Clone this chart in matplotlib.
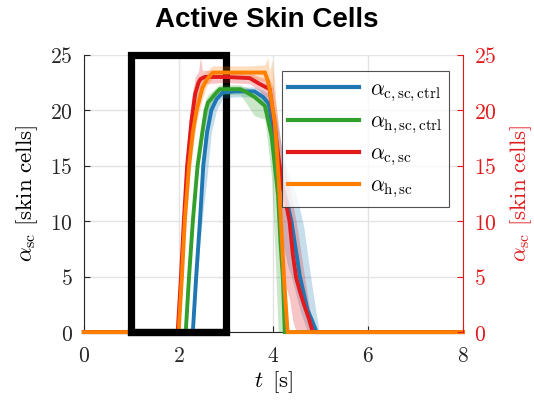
import matplotlib
matplotlib.use("Agg")
import matplotlib.pyplot as plt
from matplotlib.ticker import FuncFormatter
from matplotlib.patches import Rectangle

plt.rcParams["mathtext.fontset"] = "cm"
plt.rcParams["font.family"] = ["DejaVu Serif"]

# ---- data: mean active skin cells and spread bands over time [s] ----
t_c_ctrl = [0, 2.30, 2.37, 2.45, 2.52, 2.60, 2.69, 2.80, 2.93, 3.20, 3.60, 3.78, 3.90, 4.00, 4.10, 4.20, 4.30, 4.38, 4.47, 4.56, 4.64, 4.72, 4.82, 4.91, 4.97, 8]
a_c_ctrl = [0, 0, 5, 10, 15, 18, 20, 21, 21.6, 21.7, 21.7, 21.2, 20.6, 18, 15, 13, 11.5, 10, 7.5, 5, 3.5, 2, 1, 0, 0, 0]
lo_c_ctrl = [0, 0, 3, 8, 11, 14, 18, 20, 21.1, 21.2, 21.2, 20.5, 19, 15, 11, 8, 6, 5, 3.5, 2, 1, 0, 0, 0, 0, 0]
hi_c_ctrl = [0, 0, 7, 12, 17, 20.5, 21.5, 21.8, 22, 22.1, 22.1, 21.8, 21.5, 20.5, 18.5, 16, 14.5, 13.5, 12.5, 11, 9.5, 7, 4, 1.5, 0, 0]

t_h_ctrl = [0, 2.15, 2.22, 2.30, 2.40, 2.50, 2.57, 2.62, 2.80, 2.87, 3.30, 3.40, 3.60, 3.82, 3.96, 4.03, 4.10, 4.15, 4.20, 4.24, 4.28, 8]
a_h_ctrl = [0, 0, 5, 10, 15, 18, 20, 20.7, 21.6, 21.9, 21.9, 21.7, 21.2, 20.4, 17.7, 15, 12.3, 8, 4.9, 0, 0, 0]
lo_h_ctrl = [0, 0, 4, 9, 14, 17, 19, 19.8, 21, 21.4, 21.4, 20.8, 19.5, 19.2, 14, 7.5, 0, 0, 0, 0, 0, 0]
hi_h_ctrl = [0, 0, 6, 11, 16, 19, 21, 21.4, 22.1, 22.3, 22.3, 22.1, 21.8, 21.3, 19.5, 17.5, 15, 11, 7, 2, 0, 0]

t_c = [0, 1.98, 2.05, 2.11, 2.18, 2.27, 2.35, 2.42, 2.46, 2.50, 2.55, 3.00, 3.50, 3.70, 3.92, 4.00, 4.10, 4.20, 4.34, 4.41, 4.48, 4.57, 4.66, 4.75, 4.83, 4.86, 8]
a_c = [0, 0, 5, 10, 15, 19, 21.5, 22.5, 22.8, 22.9, 23.0, 23.0, 22.9, 22.4, 21.9, 19.5, 16, 13, 10, 7, 4.9, 3.5, 2.3, 1.2, 0, 0, 0]
lo_c = [0, 0, 3, 8, 13, 17, 20, 21.5, 22, 22.2, 22.4, 22.5, 22.4, 21.8, 20.5, 15, 9, 5, 3, 1, 0, 0, 0, 0, 0, 0, 0]
hi_c = [0, 0, 7, 12, 17, 21, 23, 23.5, 24.8, 23.6, 23.6, 23.5, 23.4, 23.0, 22.8, 22, 19, 15.5, 13, 11.5, 10, 7.5, 4.9, 2.5, 0.5, 0, 0]

t_h = [0, 2.00, 2.07, 2.13, 2.22, 2.30, 2.38, 2.50, 2.60, 2.72, 3.50, 3.82, 3.88, 3.92, 3.97, 4.03, 4.08, 4.13, 4.22, 4.30, 4.33, 8]
a_h = [0, 0, 5, 10, 15, 18, 20, 22, 22.8, 23.4, 23.4, 23.4, 22.7, 21.9, 20.5, 18.9, 15.9, 12.3, 5, 0, 0, 0]
lo_h = [0, 0, 3.5, 8.5, 13.5, 16.5, 19, 21, 22.2, 22.9, 22.9, 22.6, 21.5, 20, 18, 16, 12.5, 8, 2, 0, 0, 0]
hi_h = [0, 0, 6.5, 11.5, 16.5, 19.5, 21.5, 23, 23.6, 24, 24, 24.1, 24.8, 23.5, 24.5, 22.5, 19, 15.5, 8, 1, 0, 0]

labels = [r"$\alpha_{\mathrm{c,sc,ctrl}}$", r"$\alpha_{\mathrm{h,sc,ctrl}}$",
          r"$\alpha_{\mathrm{c,sc}}$", r"$\alpha_{\mathrm{h,sc}}$"]
colors = ["#1f78b4", "#33a02c", "#e31a1c", "#ff7f00"]
x_ticks = [0, 2, 4, 6, 8]
y_ticks = [0, 5, 10, 15, 20, 25]
highlight = (1, 3)  # time window marked by the box [s]

series = [
    (t_c_ctrl, a_c_ctrl, lo_c_ctrl, hi_c_ctrl),
    (t_h_ctrl, a_h_ctrl, lo_h_ctrl, hi_h_ctrl),
    (t_c, a_c, lo_c, hi_c),
    (t_h, a_h, lo_h, hi_h),
]

fig = plt.figure(figsize=(5.34, 4.09), dpi=100)
ax = fig.add_axes([0.157, 0.188, 0.71, 0.678])

box_lw = 5.2
ax.add_patch(Rectangle((highlight[0], 0), highlight[1] - highlight[0], 25,
                       fill=False, edgecolor="black", linewidth=box_lw,
                       clip_on=False, zorder=2, joinstyle="miter"))

for (tt, aa, lo, hi), col in zip(series, colors):
    ax.fill_between(tt, lo, hi, color=col, alpha=0.25, linewidth=0, zorder=3)
for (tt, aa, lo, hi), col, lab in zip(series, colors, labels):
    ax.plot(tt, aa, color=col, linewidth=2.8, label=lab, zorder=4,
            solid_joinstyle="miter", clip_on=False)

# bottom edge of the highlight box stays on top of the zero-level traces
ax.plot(highlight, [0, 0], color="black", linewidth=box_lw,
        solid_capstyle="projecting", clip_on=False, zorder=5)

ax.set_xlim(0, 8)
ax.set_ylim(0, 25)
ax.set_xticks(x_ticks)
ax.set_yticks(y_ticks)
fmt = FuncFormatter(lambda v, p: rf"${v:g}$")
ax.xaxis.set_major_formatter(fmt)
ax.yaxis.set_major_formatter(fmt)
ax.grid(True, color="#e3e3e3", linewidth=1.0, zorder=0)
ax.set_axisbelow(True)

gray = "#262626"
for side in ("top", "right"):
    ax.spines[side].set_visible(False)
for side in ("left", "bottom"):
    ax.spines[side].set_color(gray)
    ax.spines[side].set_linewidth(0.8)
ax.tick_params(direction="in", length=4, width=0.8, colors=gray,
               labelsize=15.5, labelcolor="#262626")
ax.tick_params(axis="x", pad=9)
ax.tick_params(axis="y", pad=8)

ax.set_xlabel(r"$t\ \,[\mathrm{s}]$", fontsize=16.5, labelpad=2)
ax.set_ylabel(r"$\alpha_{\mathrm{sc}}\ [\mathrm{skin\ cells}]$", fontsize=16.5,
              labelpad=7)

red = "#e31a1c"
ax2 = ax.twinx()
ax2.set_ylim(0, 25)
ax2.set_yticks(y_ticks)
ax2.yaxis.set_major_formatter(fmt)
for side in ("top", "left", "bottom"):
    ax2.spines[side].set_visible(False)
ax2.spines["right"].set_color(red)
ax2.spines["right"].set_linewidth(0.8)
ax2.tick_params(direction="in", length=4, width=0.8, colors=red,
                labelsize=15.5, pad=8)
ax2.set_ylabel(r"$\alpha_{\mathrm{sc}}\ [\mathrm{skin\ cells}]$", fontsize=16.5,
               color=red, labelpad=8)

leg = ax.legend(loc="upper left", bbox_to_anchor=(0.522, 0.94), fontsize=15.5,
                frameon=True, fancybox=False, edgecolor=gray,
                handlelength=3.3, handletextpad=0.5, labelspacing=0.3,
                borderpad=0.3, borderaxespad=0)
leg.get_frame().set_linewidth(0.8)
leg.set_zorder(10)
for h in leg.legend_handles:
    h.set_linewidth(3.0)

fig.text(0.5, 0.935, "Active Skin Cells", ha="center", va="baseline",
         fontsize=20, fontweight="bold", family="Liberation Sans")

fig.savefig("out.png", dpi=100)
